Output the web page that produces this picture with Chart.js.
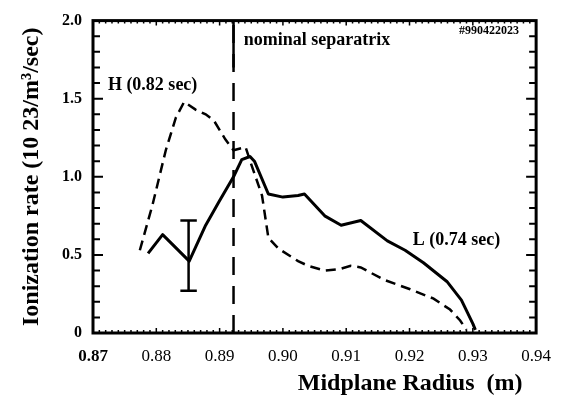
<!DOCTYPE html>
<html>
<head>
<meta charset="utf-8">
<script src="https://cdn.jsdelivr.net/npm/chart.js@4.4.1/dist/chart.umd.min.js"></script>
<style>
  body { margin: 0; background: #fff; }
  #wrap { width: 564px; height: 398px; }
</style>
</head>
<body>
<div id="wrap"><canvas id="ionChart"></canvas></div>
<script>
// H mode profile (0.82 sec), dashed
const hX = [0.8774, 0.8794, 0.8815, 0.8831, 0.8844, 0.8862, 0.8878, 0.8891, 0.8909, 0.8922, 0.8941,
            0.8950, 0.8967, 0.8977, 0.8993, 0.9024, 0.9040, 0.9066, 0.9090, 0.9107, 0.9123, 0.9160,
            0.9201, 0.9238, 0.9264, 0.9280, 0.9290];
const hY = [0.53, 0.82, 1.17, 1.38, 1.48, 1.43, 1.40, 1.36, 1.24, 1.17, 1.19,
            1.08, 0.88, 0.61, 0.54, 0.46, 0.43, 0.40, 0.41, 0.43, 0.42, 0.34,
            0.28, 0.22, 0.15, 0.08, 0.02];

// L mode profile (0.74 sec), solid
const lX = [0.8787, 0.8810, 0.8852, 0.8878, 0.8899, 0.8922, 0.8935, 0.8948, 0.8955, 0.8977, 0.9000,
            0.9024, 0.9034, 0.9066, 0.9092, 0.9123, 0.9165, 0.9193, 0.9222, 0.9259, 0.9282, 0.9300, 0.9304];
const lY = [0.51, 0.63, 0.46, 0.69, 0.84, 1.00, 1.11, 1.13, 1.10, 0.89, 0.87,
            0.88, 0.89, 0.75, 0.69, 0.72, 0.59, 0.53, 0.45, 0.33, 0.21, 0.06, 0.02];

// error bar on the L profile
const errX = 0.8851;
const errLow = 0.27;
const errHigh = 0.72;
const capHalf = 0.0013;

// nominal separatrix position
const sepX = 0.8922;
const sepSolidFrom = 1.70;

const xTicks = [0.87, 0.88, 0.89, 0.90, 0.91, 0.92, 0.93, 0.94];
const yTicks = [0, 0.5, 1.0, 1.5, 2.0];

const notes = [
  { text: 'nominal separatrix', x: 0.8938, y: 1.874, size: 18 },
  { text: '#990422023', x: 0.9278, y: 1.931, size: 12 },
  { text: 'H (0.82 sec)', x: 0.87235, y: 1.585, size: 18 },
  { text: 'L (0.74 sec)', x: 0.9205, y: 0.591, size: 18 }
];

const SERIF = '"Liberation Serif", "DejaVu Serif", serif';

function pts(xs, ys) {
  return xs.map((x, i) => ({ x: x, y: ys[i] }));
}

// frame, inward minor ticks, annotations, x title
const framePlugin = {
  id: 'frame',
  afterDatasetsDraw(chart) {
    const { ctx, chartArea: a, scales } = chart;
    const xs = scales.x, ys = scales.y;
    ctx.save();
    ctx.strokeStyle = '#000';
    ctx.lineWidth = 3;
    ctx.strokeRect(a.left, a.top, a.right - a.left, a.bottom - a.top);

    ctx.lineWidth = 2;
    for (let i = 1; i < 20; i++) {
      const py = ys.getPixelForValue(i / 10);
      const len = (i % 5 === 0) ? 10 : 7;
      ctx.beginPath();
      ctx.moveTo(a.left, py); ctx.lineTo(a.left + len, py);
      ctx.moveTo(a.right, py); ctx.lineTo(a.right - len, py);
      ctx.stroke();
    }
    ctx.lineWidth = 1.5;
    for (let i = 1; i < 70; i++) {
      const px = xs.getPixelForValue(0.87 + i / 1000);
      const len = (i % 10 === 0) ? 5 : 3;
      ctx.beginPath();
      ctx.moveTo(px, a.bottom); ctx.lineTo(px, a.bottom - len);
      ctx.moveTo(px, a.top); ctx.lineTo(px, a.top + len);
      ctx.stroke();
    }

    ctx.fillStyle = '#000';
    ctx.textBaseline = 'middle';
    ctx.textAlign = 'left';
    notes.forEach(n => {
      ctx.font = 'bold ' + n.size + 'px ' + SERIF;
      ctx.fillText(n.text, xs.getPixelForValue(n.x), ys.getPixelForValue(n.y));
    });

    ctx.textAlign = 'center';
    ctx.font = 'bold 24px ' + SERIF;
    ctx.fillText('Midplane Radius  (m)', xs.getPixelForValue(0.9201), a.bottom + 51);
    ctx.restore();
  }
};

const lineBase = { borderColor: '#000', pointRadius: 0, tension: 0, fill: false };

new Chart(document.getElementById('ionChart'), {
  type: 'line',
  data: {
    datasets: [
      { ...lineBase, label: 'H (0.82 sec)', data: pts(hX, hY), borderWidth: 2.5, borderDash: [10, 6] },
      { ...lineBase, label: 'L (0.74 sec)', data: pts(lX, lY), borderWidth: 3, borderJoinStyle: 'round' },
      { ...lineBase, label: 'error', data: pts([errX, errX], [errLow, errHigh]), borderWidth: 2.5 },
      { ...lineBase, label: 'cap low', data: pts([errX - capHalf, errX + capHalf], [errLow, errLow]), borderWidth: 2.5 },
      { ...lineBase, label: 'cap high', data: pts([errX - capHalf, errX + capHalf], [errHigh, errHigh]), borderWidth: 2.5 },
      { ...lineBase, label: 'separatrix', data: pts([sepX, sepX], [0, 2]), borderWidth: 2.5, borderDash: [18, 11] },
      { ...lineBase, label: 'separatrix top', data: pts([sepX, sepX], [sepSolidFrom, 2]), borderWidth: 2.5 }
    ]
  },
  options: {
    responsive: true,
    maintainAspectRatio: false,
    animation: false,
    layout: { padding: { top: 15, right: 22, left: 0, bottom: 0 } },
    plugins: { legend: { display: false }, tooltip: { enabled: false } },
    scales: {
      x: {
        type: 'linear',
        min: 0.87,
        max: 0.94,
        afterFit(scale) { scale.height = 65; },
        afterBuildTicks(scale) { scale.ticks = xTicks.map(v => ({ value: v })); },
        grid: { display: false, drawTicks: false },
        border: { display: false },
        ticks: {
          padding: 13,
          color: '#000',
          maxRotation: 0,
          font: c => ({ family: SERIF, size: 17, weight: c.tick && Math.abs(c.tick.value - 0.87) < 1e-6 ? 'bold' : 'normal' }),
          callback: v => v.toFixed(2)
        }
      },
      y: {
        min: 0,
        max: 2,
        afterFit(scale) { scale.width = 93; },
        afterBuildTicks(scale) { scale.ticks = yTicks.map(v => ({ value: v })); },
        grid: { display: false, drawTicks: false },
        border: { display: false },
        title: {
          display: true,
          text: 'Ionization rate (10 23/m³/sec)',
          color: '#000',
          font: { family: SERIF, size: 24, weight: 'bold' },
          padding: { top: 17, bottom: 0 }
        },
        ticks: {
          padding: 11,
          color: '#000',
          font: { family: SERIF, size: 16, weight: 'bold' },
          callback: v => v === 0 ? '0' : v.toFixed(1)
        }
      }
    }
  },
  plugins: [framePlugin]
});
</script>
</body>
</html>
